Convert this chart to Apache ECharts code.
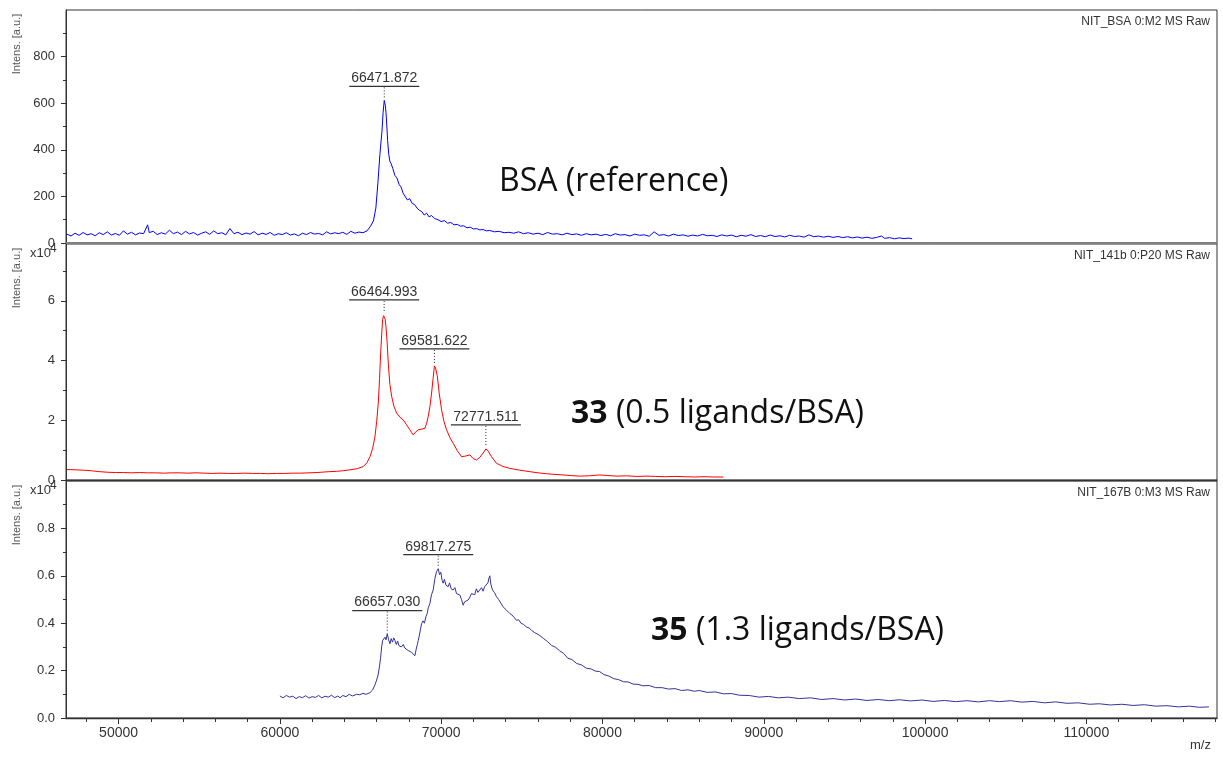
<!DOCTYPE html>
<html><head><meta charset="utf-8">
<script src="https://cdn.jsdelivr.net/npm/echarts@6/dist/echarts.min.js"></script>
<style>html,body{margin:0;padding:0;background:#fff}#c{width:1223px;height:758px}</style>
</head><body><div id="c"></div>
<script>
// ---------------- DATA ----------------
// m/z axis ticks
const xMajorTicks = [50000, 60000, 70000, 80000, 90000, 100000, 110000];
const xMinorTicks = [48000, 52000, 54000, 56000, 58000, 62000, 64000, 66000, 68000, 72000, 74000, 76000, 78000, 82000, 84000, 86000, 88000, 92000, 94000, 96000, 98000, 102000, 104000, 106000, 108000, 112000, 114000, 116000, 118000];
// y ticks (panel units: a.u., x10^4, x10^4)
const yTopMajor = [0, 200, 400, 600, 800];
const yTopMinor = [100, 300, 500, 700, 900];
const yMidMajor = [0, 2, 4, 6];
const yMidMinor = [1, 3, 5, 7];
const yBotMajor = [0, 0.2, 0.4, 0.6, 0.8];
const yBotMinor = [0.1, 0.3, 0.5, 0.7, 0.9];

const panelTitles = ['NIT_BSA 0:M2 MS Raw', 'NIT_141b 0:P20 MS Raw', 'NIT_167B 0:M3 MS Raw'];

// BSA reference spectrum [m/z, intensity a.u.]
const bsaSpectrum = [
[46800,38],[47050,30],[47300,42],[47550,33],[47800,45],[48050,35],[48300,40],[48550,31],[48800,44],[49050,36],[49300,48],[49550,34],[49800,41],[50050,33],[50300,52],[50550,38],[50800,46],[51050,35],[51300,43],[51550,40],[51800,78],[51900,45],[52150,50],[52400,36],[52650,44],[52900,38],[53150,55],[53400,40],[53650,47],[53900,36],[54150,50],[54400,39],[54650,45],[54900,34],[55150,42],[55400,48],[55650,37],[55900,52],[56150,40],[56400,44],[56650,35],[56900,62],[57150,40],[57400,46],[57650,36],[57900,43],[58150,38],[58400,49],[58650,35],[58900,42],[59150,37],[59400,45],[59650,33],[59900,40],[60150,36],[60400,44],[60650,34],[60900,39],[61150,31],[61400,42],[61650,36],[61900,45],[62150,38],[62400,41],[62650,35],[62900,48],[63150,39],[63400,44],[63650,40],[63900,46],[64150,37],[64400,50],[64650,42],[64900,47],[65150,44],[65400,52],[65600,70],[65800,95],[65950,150],[66080,260],[66200,380],[66330,480],[66400,560],[66470,612],[66540,590],[66600,540],[66680,440],[66750,380],[66820,350],[66900,340],[67000,320],[67130,290],[67250,280],[67400,250],[67520,240],[67630,215],[67750,210],[67900,185],[68050,190],[68200,170],[68350,165],[68500,150],[68650,140],[68800,135],[68950,120],[69100,128],[69250,112],[69400,118],[69600,105],[69800,100],[70000,92],[70200,96],[70400,85],[70600,88],[70800,78],[71000,80],[71200,72],[71400,74],[71600,65],[71800,68],[72000,60],[72200,62],[72400,56],[72600,58],[72800,52],[73000,54],[73300,48],[73600,50],[73900,44],[74200,46],[74500,42],[74800,48],[75100,40],[75400,44],[75700,38],[76000,42],[76300,36],[76600,45],[76900,38],[77200,40],[77500,35],[77800,42],[78100,36],[78400,39],[78700,33],[79000,40],[79300,35],[79600,38],[79900,32],[80200,37],[80500,31],[80800,40],[81100,34],[81400,36],[81700,30],[82000,38],[82300,33],[82600,35],[82900,29],[83200,48],[83500,33],[83800,36],[84100,30],[84400,38],[84700,32],[85000,35],[85300,29],[85600,34],[85900,30],[86200,37],[86500,31],[86800,33],[87100,28],[87400,35],[87700,30],[88000,34],[88300,27],[88600,33],[88900,29],[89200,36],[89500,28],[89800,32],[90100,27],[90400,34],[90700,28],[91000,31],[91300,26],[91600,33],[91900,28],[92200,30],[92500,25],[92800,35],[93100,27],[93400,30],[93700,25],[94000,29],[94300,24],[94600,28],[94900,23],[95200,27],[95500,22],[95800,26],[96100,21],[96400,25],[96700,20],[97000,24],[97300,30],[97500,20],[97800,23],[98100,18],[98400,22],[98700,19],[99000,21],[99200,18]
];

// compound 33 spectrum [m/z, intensity x10^4]
const c33Spectrum = [
[46800,0.35],[47300,0.34],[47800,0.33],[48300,0.31],[48800,0.28],[49300,0.26],[49800,0.25],[50300,0.25],[50800,0.24],[51300,0.25],[51800,0.24],[52300,0.24],[52800,0.23],[53300,0.24],[53800,0.24],[54300,0.23],[54800,0.24],[55300,0.23],[55800,0.22],[56300,0.23],[56800,0.22],[57300,0.22],[57800,0.23],[58300,0.22],[58800,0.22],[59300,0.21],[59800,0.22],[60300,0.22],[60800,0.23],[61300,0.23],[61800,0.24],[62300,0.25],[62800,0.27],[63100,0.28],[63500,0.29],[63900,0.31],[64350,0.34],[64800,0.38],[65170,0.45],[65400,0.58],[65585,0.78],[65750,1.05],[65895,1.45],[66000,1.95],[66100,2.57],[66180,3.4],[66250,4.25],[66320,4.95],[66371,5.37],[66430,5.5],[66465,5.56],[66520,5.4],[66576,5.15],[66650,4.6],[66720,3.92],[66820,3.2],[66930,2.8],[67080,2.45],[67240,2.24],[67450,2.1],[67650,2.01],[67850,1.85],[68060,1.68],[68180,1.58],[68267,1.51],[68400,1.6],[68580,1.68],[68780,1.7],[68990,1.73],[69100,1.9],[69195,2.12],[69300,2.45],[69406,2.91],[69500,3.4],[69582,3.82],[69650,3.75],[69755,3.5],[69880,2.9],[70025,2.35],[70180,1.95],[70335,1.68],[70540,1.42],[70745,1.23],[71000,0.98],[71265,0.78],[71500,0.8],[71780,0.84],[71980,0.72],[72190,0.67],[72400,0.76],[72600,0.9],[72771,1.04],[72900,0.98],[73120,0.78],[73430,0.56],[73800,0.46],[74250,0.39],[74850,0.33],[75490,0.28],[76000,0.24],[76530,0.21],[77000,0.19],[77550,0.17],[78000,0.15],[78590,0.13],[79200,0.14],[79800,0.17],[80300,0.15],[80900,0.13],[81500,0.14],[82100,0.12],[82700,0.13],[83300,0.12],[83900,0.11],[84500,0.12],[85100,0.11],[85700,0.1],[86300,0.11],[86900,0.1],[87500,0.1]
];

// compound 35 spectrum [m/z, intensity x10^4]
const c35Spectrum = [
[60000,0.093],[60200,0.085],[60400,0.095],[60600,0.088],[60800,0.092],[61000,0.082],[61200,0.09],[61400,0.086],[61600,0.094],[61800,0.084],[62000,0.09],[62200,0.087],[62400,0.095],[62600,0.085],[62800,0.092],[63000,0.088],[63200,0.096],[63400,0.086],[63600,0.093],[63728,0.085],[63900,0.095],[64100,0.09],[64300,0.1],[64500,0.093],[64762,0.1],[64950,0.098],[65150,0.104],[65350,0.1],[65585,0.107],[65750,0.118],[65895,0.14],[66000,0.16],[66100,0.185],[66180,0.22],[66247,0.256],[66310,0.3],[66371,0.327],[66450,0.335],[66514,0.341],[66580,0.33],[66657,0.356],[66740,0.33],[66823,0.313],[66900,0.335],[66980,0.32],[67060,0.338],[67133,0.327],[67220,0.31],[67300,0.325],[67380,0.305],[67443,0.313],[67540,0.3],[67650,0.31],[67750,0.295],[67856,0.299],[67950,0.285],[68050,0.29],[68166,0.277],[68270,0.27],[68372,0.263],[68450,0.29],[68520,0.31],[68579,0.327],[68650,0.35],[68720,0.375],[68786,0.398],[68870,0.41],[68960,0.4],[69053,0.427],[69130,0.44],[69200,0.465],[69300,0.483],[69400,0.52],[69505,0.54],[69600,0.585],[69715,0.618],[69817,0.63],[69900,0.605],[69980,0.615],[70060,0.58],[70125,0.569],[70200,0.585],[70300,0.56],[70434,0.554],[70520,0.57],[70620,0.545],[70744,0.54],[70850,0.55],[70950,0.525],[71050,0.53],[71158,0.519],[71260,0.5],[71365,0.476],[71450,0.49],[71550,0.485],[71675,0.498],[71780,0.51],[71880,0.525],[71981,0.533],[72080,0.52],[72180,0.545],[72280,0.53],[72397,0.526],[72500,0.55],[72600,0.535],[72700,0.555],[72810,0.548],[72900,0.57],[72960,0.59],[73016,0.6],[73080,0.565],[73180,0.54],[73300,0.53],[73430,0.512],[73560,0.5],[73700,0.485],[73840,0.469],[73950,0.475],[74050,0.455],[74150,0.46],[74254,0.441],[74380,0.435],[74520,0.425],[74670,0.412],[74800,0.415],[74950,0.4],[75100,0.395],[75290,0.384],[75450,0.38],[75600,0.37],[75800,0.36],[75950,0.355],[76110,0.348],[76350,0.335],[76600,0.322],[76850,0.306],[77100,0.298],[77340,0.284],[77600,0.272],[77850,0.252],[78100,0.247],[78400,0.23],[78700,0.224],[79000,0.21],[79300,0.207],[79550,0.198],[79820,0.196],[80100,0.183],[80400,0.177],[80700,0.166],[81000,0.162],[81300,0.153],[81600,0.152],[81900,0.143],[82200,0.142],[82500,0.136],[82900,0.137],[83300,0.128],[83700,0.128],[84100,0.122],[84500,0.124],[84900,0.116],[85300,0.119],[85700,0.113],[86000,0.116],[86500,0.108],[87000,0.11],[87500,0.102],[88000,0.103],[88500,0.096],[89100,0.095],[89700,0.088],[90300,0.091],[90900,0.085],[91500,0.088],[92200,0.082],[92900,0.085],[93600,0.078],[94300,0.082],[95000,0.076],[95700,0.08],[96400,0.074],[97100,0.078],[97800,0.073],[98400,0.077],[99100,0.072],[99800,0.076],[100500,0.07],[101200,0.074],[101900,0.069],[102600,0.073],[103300,0.068],[104000,0.073],[104600,0.069],[105300,0.073],[106000,0.067],[106700,0.07],[107400,0.064],[108100,0.068],[108800,0.062],[109500,0.064],[110200,0.058],[110800,0.06],[111500,0.055],[112200,0.058],[112900,0.053],[113600,0.056],[114300,0.05],[115000,0.052],[115700,0.047],[116400,0.05],[117000,0.045],[117600,0.047]
];

// annotated peaks [m/z, intensity]
const bsaPeaks = [[66471.872, 612]];
const c33Peaks = [[66464.993, 5.56], [69581.622, 3.82], [72771.511, 1.04]];
const c35Peaks = [[66657.030, 0.356], [69817.275, 0.63]];

const sampleLabels = ['BSA (reference)', '33', ' (0.5 ligands/BSA)', '35', ' (1.3 ligands/BSA)'];

// ---------------- STYLE / LAYOUT ----------------
const X_MIN = 46740, X_MAX = 118100;
const yMax = [1000, 7.9, 1.0];
const grids = [
  {left: 66, right: 6, top: 10, height: 233},
  {left: 66, right: 6, top: 244, height: 236},
  {left: 66, right: 6, top: 481, height: 237}
];
const leaderGaps = [[14], [14, 17, 24], [23, 14]];
const FONT = '"Liberation Sans", Arial, sans-serif';
const BIG = '"Open Sans", sans-serif';
const BIG_SIZE = 32;
const axisColor = '#333';

function yAxesFor(i, major, minor, fmt) {
  return [{
    type: 'value', gridIndex: i, position: 'left', min: 0, max: yMax[i],
    axisLine: {show: true, lineStyle: {color: axisColor, width: 1}},
    axisTick: {show: true, length: 5, customValues: major, lineStyle: {color: axisColor}},
    axisLabel: {show: true, customValues: major, margin: 11, color: '#333', fontSize: 13, fontFamily: FONT, formatter: fmt},
    splitLine: {show: false}
  }, {
    type: 'value', gridIndex: i, position: 'left', offset: 0, min: 0, max: yMax[i],
    axisLine: {show: false},
    axisTick: {show: true, length: 3, customValues: minor, lineStyle: {color: axisColor}},
    axisLabel: {show: false},
    splitLine: {show: false}
  }];
}

function peakRenderer(gaps) {
  return function (params, api) {
    const mz = api.value(0), it = api.value(1);
    const p = api.coord([mz, it]);
    const uy = p[1] - gaps[params.dataIndex];
    return {
      type: 'group', children: [
        {type: 'line', shape: {x1: p[0], y1: uy + 1, x2: p[0], y2: p[1] - 2},
          style: {stroke: '#222', lineWidth: 1, lineDash: [1, 2]}},
        {type: 'line', shape: {x1: p[0] - 35, y1: uy, x2: p[0] + 35, y2: uy},
          style: {stroke: '#333', lineWidth: 1.3}},
        {type: 'text', x: p[0], y: uy - 1,
          style: {text: mz.toFixed(3), align: 'center', textAlign: 'center', verticalAlign: 'bottom', textVerticalAlign: 'bottom',
            font: '14px ' + FONT, fill: '#333'}}
      ]
    };
  };
}

function lineSeries(data, idx, color) {
  return {type: 'line', data: data, xAxisIndex: idx, yAxisIndex: idx * 2, showSymbol: false, symbol: 'none',
    lineStyle: {color: color, width: 1}, itemStyle: {color: color}, animation: false, silent: true};
}
function peakSeries(data, idx) {
  return {type: 'custom', data: data, xAxisIndex: idx, yAxisIndex: idx * 2, coordinateSystem: 'cartesian2d',
    renderItem: peakRenderer(leaderGaps[idx]), clip: false, silent: true, animation: false, z: 5};
}

function sideText(i) {
  const g = grids[i];
  const els = [
    {type: 'text', x: 17, y: g.top + 34, rotation: Math.PI / 2,
      style: {text: 'Intens. [a.u.]', align: 'center', textAlign: 'center', verticalAlign: 'middle', textVerticalAlign: 'middle',
        font: '11px ' + FONT, fill: '#555'}},
    {type: 'text', x: 1210, y: g.top + 12,
      style: {text: panelTitles[i], align: 'right', textAlign: 'right', verticalAlign: 'middle', textVerticalAlign: 'middle',
        font: '12px ' + FONT, fill: '#333'}}
  ];
  if (i > 0) {
    els.push({type: 'text', x: 30, y: g.top + 9,
      style: {text: 'x10', align: 'left', textAlign: 'left', verticalAlign: 'middle', textVerticalAlign: 'middle', font: '13px ' + FONT, fill: '#333'}});
    els.push({type: 'text', x: 50, y: g.top + 5,
      style: {text: '4', align: 'left', textAlign: 'left', verticalAlign: 'middle', textVerticalAlign: 'middle', font: '12px ' + FONT, fill: '#333'}});
  }
  return els;
}

const xAxes = [0, 1, 2].map(i => ({
  type: 'value', gridIndex: i, position: 'bottom', min: X_MIN, max: X_MAX,
  axisLine: {show: true, lineStyle: {color: i === 0 ? '#808080' : axisColor, width: i === 0 ? 2 : 1.3}},
  axisTick: {show: i === 2, length: 6, customValues: xMajorTicks, lineStyle: {color: axisColor}},
  axisLabel: {show: i === 2, customValues: xMajorTicks, margin: 8, color: '#333', fontSize: 14, fontFamily: FONT,
    formatter: v => String(v)},
  splitLine: {show: false}
}));
xAxes.push({
  type: 'value', gridIndex: 2, position: 'bottom', offset: 0, min: X_MIN, max: X_MAX,
  axisLine: {show: false},
  axisTick: {show: true, length: 4, customValues: xMinorTicks, lineStyle: {color: axisColor}},
  axisLabel: {show: false}, splitLine: {show: false}
});

function bigText(x, y, txt) {
  return {type: 'text', x: x, y: y,
    style: {text: txt, align: 'left', textAlign: 'left', verticalAlign: 'middle', textVerticalAlign: 'middle',
      font: BIG_SIZE + 'px ' + BIG, fill: '#111',
      rich: {b: {fontWeight: 'bold', fontSize: BIG_SIZE, fontFamily: BIG, fill: '#111', color: '#111'}}}};
}

const option = {
  backgroundColor: '#fff',
  animation: false,
  grid: grids.map(g => Object.assign({show: true, borderColor: axisColor, borderWidth: 1, backgroundColor: 'transparent'}, g)),
  xAxis: xAxes,
  yAxis: [].concat(
    yAxesFor(0, yTopMajor, yTopMinor, v => String(v)),
    yAxesFor(1, yMidMajor, yMidMinor, v => String(v)),
    yAxesFor(2, yBotMajor, yBotMinor, v => v.toFixed(1))
  ),
  series: [
    lineSeries(bsaSpectrum, 0, '#0000ff'),
    lineSeries(c33Spectrum, 1, '#ff0000'),
    lineSeries(c35Spectrum, 2, '#333399'),
    peakSeries(bsaPeaks, 0),
    peakSeries(c33Peaks, 1),
    peakSeries(c35Peaks, 2)
  ],
  graphic: [].concat(sideText(0), sideText(1), sideText(2), [
    {type: 'text', x: 1190, y: 745,
      style: {text: 'm/z', align: 'left', textAlign: 'left', verticalAlign: 'middle', textVerticalAlign: 'middle', font: '13px ' + FONT, fill: '#333'}},
    bigText(499, 182, sampleLabels[0]),
    bigText(571, 414, '{b|' + sampleLabels[1] + '}' + sampleLabels[2]),
    bigText(651, 631, '{b|' + sampleLabels[3] + '}' + sampleLabels[4])
  ])
};

const chart = echarts.init(document.getElementById('c'), null, {renderer: 'canvas'});
chart.setOption(option);
</script></body></html>
